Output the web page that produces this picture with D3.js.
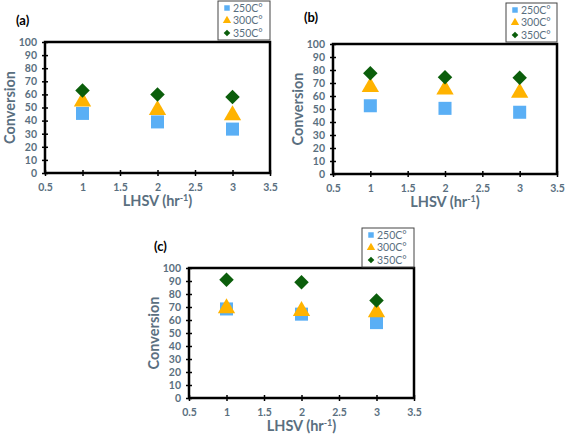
<!DOCTYPE html>
<html><head><meta charset="utf-8">
<script src="https://cdn.jsdelivr.net/npm/d3@7"></script>
<style>body{margin:0;background:#fff}svg{display:block}</style>
</head><body>
<svg id="c" width="567" height="435"></svg>
<script>
const lhsv = [1, 2, 3];
const seriesNames = ["250C°", "300C°", "350C°"];
const panelLabels = ["(a)", "(b)", "(c)"];
const a250 = [45.5, 39, 33.5];
const a300 = [54.5, 48, 44];
const a350 = [63, 60, 58];
const b250 = [52.5, 50.5, 47.5];
const b300 = [67, 65, 62.5];
const b350 = [77.5, 74.5, 74];
const c250 = [68.5, 64.5, 58];
const c300 = [69, 67, 66];
const c350 = [91, 89, 75];
const xTicks = [0.5, 1, 1.5, 2, 2.5, 3, 3.5];
const yTicks = [0, 10, 20, 30, 40, 50, 60, 70, 80, 90, 100];

const colors = ["#5aaff5", "#ffb300", "#0b5e0b"];
const shapes = [d3.symbolSquare, d3.symbolTriangle, d3.symbolSquare];
const rotations = [0, 0, 45];
const sizes = [170, 130, 105];
const textCol = "#5a6f80";
const font = "Lato, 'Open Sans', 'Liberation Sans', sans-serif";

const svg = d3.select("#c");

const panels = [
  {label: panelLabels[0], data: [a250, a300, a350], box: [45, 42, 270, 173], lab: [16, 25], leg: [218, 1, 270, 40]},
  {label: panelLabels[1], data: [b250, b300, b350], box: [333, 44, 557, 174], lab: [304, 22], leg: [506, 3, 557, 42]},
  {label: panelLabels[2], data: [c250, c300, c350], box: [189, 268, 414, 398], lab: [154, 251], leg: [362, 228, 414, 267]}
];

panels.forEach(p => {
  const [x0, y0, x1, y1] = p.box;
  const x = d3.scaleLinear().domain([0.5, 3.5]).range([x0, x1]);
  const y = d3.scaleLinear().domain([0, 100]).range([y1, y0]);
  const g = svg.append("g");

  const ya = g.append("g").attr("transform", `translate(${x0},0)`)
    .call(d3.axisLeft(y).tickValues(yTicks).tickSize(3).tickPadding(5));
  ya.select(".domain").remove();
  ya.selectAll(".tick line").attr("x1", 3).attr("x2", -3).attr("stroke", "#000").attr("stroke-width", 1.5);
  ya.selectAll("text").attr("fill", textCol).attr("font-family", font).attr("font-weight", "bold").attr("font-size", 10.5);

  const xa = g.append("g").attr("transform", `translate(0,${y1})`)
    .call(d3.axisBottom(x).tickValues(xTicks).tickSize(3).tickPadding(8).tickFormat(d3.format("")));
  xa.select(".domain").remove();
  xa.selectAll(".tick line").attr("y1", -3).attr("y2", 3).attr("stroke", "#000").attr("stroke-width", 1.5);
  xa.selectAll("text").attr("fill", textCol).attr("font-family", font).attr("font-weight", "bold").attr("font-size", 10.5);

  g.append("rect").attr("x", x0).attr("y", y0).attr("width", x1 - x0).attr("height", y1 - y0)
    .attr("fill", "none").attr("stroke", "#000").attr("stroke-width", 2.5);

  g.append("text").attr("transform", `translate(${x0 - 35},${(y0 + y1) / 2}) rotate(-90)`)
    .attr("text-anchor", "middle").attr("dy", "0.35em").attr("fill", textCol)
    .attr("font-family", font).attr("font-weight", "bold").attr("font-size", 14.5).text("Conversion");
  const xt = g.append("text").attr("x", (x0 + x1) / 2).attr("y", y1 + 33).attr("text-anchor", "middle")
    .attr("fill", textCol).attr("font-family", font).attr("font-weight", "bold").attr("font-size", 14.5);
  xt.append("tspan").text("LHSV (hr");
  xt.append("tspan").attr("font-size", 9).attr("baseline-shift", "super").text("-1");
  xt.append("tspan").text(")");

  g.append("text").attr("x", p.lab[0]).attr("y", p.lab[1]).attr("fill", "#000")
    .attr("font-family", font).attr("font-weight", "bold").attr("font-size", 13).text(p.label);

  p.data.forEach((vals, si) => {
    g.selectAll(null).data(vals).enter().append("path")
      .attr("transform", (d, i) => `translate(${x(lhsv[i])},${y(d)}) rotate(${rotations[si]})`)
      .attr("d", d3.symbol().type(shapes[si]).size(sizes[si]))
      .attr("fill", colors[si]);
  });

  const [lx0, ly0, lx1, ly1] = p.leg;
  g.append("rect").attr("x", lx0).attr("y", ly0).attr("width", lx1 - lx0).attr("height", ly1 - ly0)
    .attr("fill", "#fff").attr("stroke", "#444").attr("stroke-width", 1);
  seriesNames.forEach((n, si) => {
    const cy = ly0 + 7 + si * 12.5;
    g.append("path").attr("transform", `translate(${lx0 + 9},${cy}) rotate(${rotations[si]})`)
      .attr("d", d3.symbol().type(shapes[si]).size(si === 2 ? 22 : 30)).attr("fill", colors[si]);
    g.append("text").attr("x", lx0 + 15).attr("y", cy).attr("dy", "0.35em").attr("fill", textCol)
      .attr("font-family", font).attr("font-size", 10.5).text(n);
  });
});
</script>
</body></html>
